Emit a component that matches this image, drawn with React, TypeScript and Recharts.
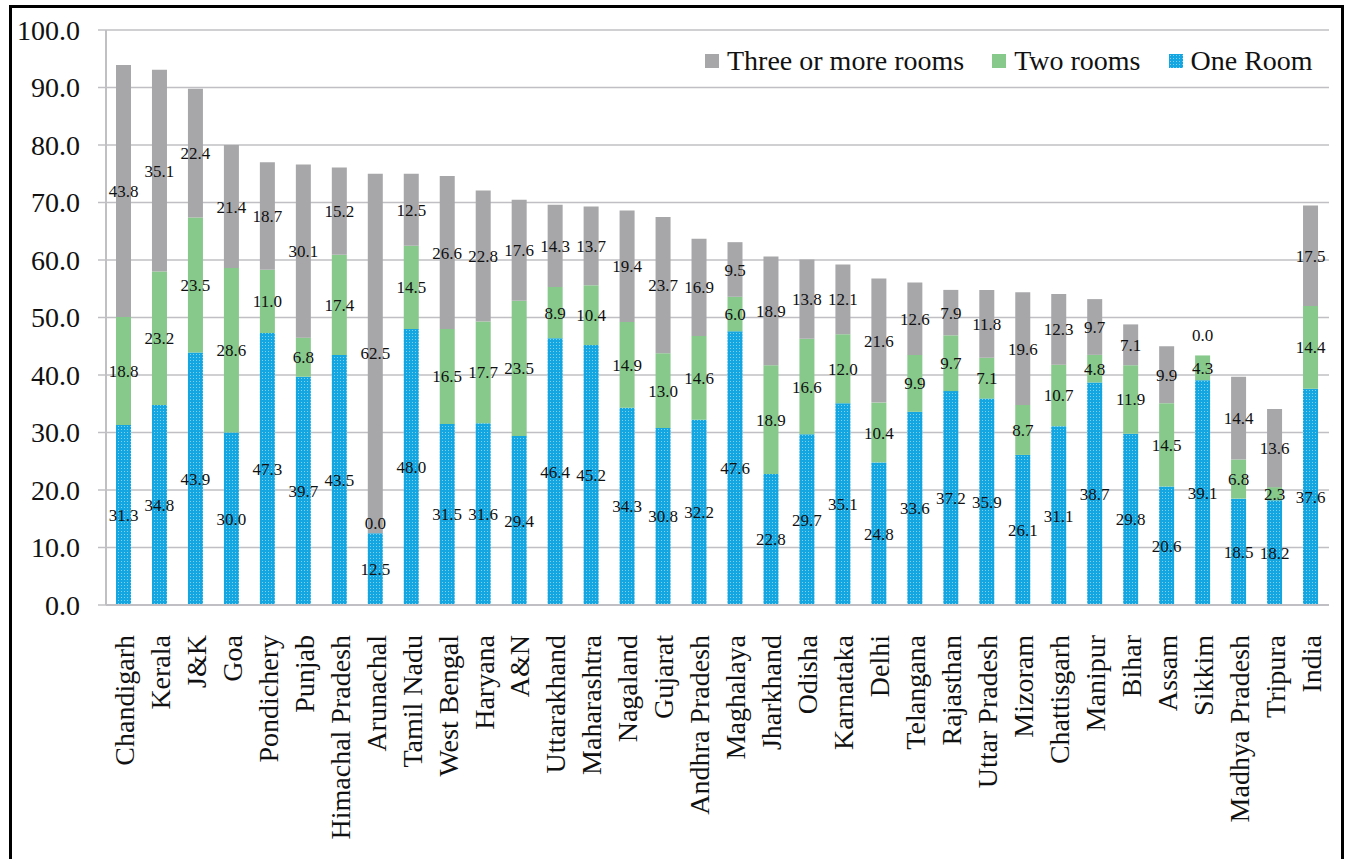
import { BarChart, Bar, XAxis, YAxis, CartesianGrid, LabelList, Legend } from "recharts";

const categories = [
  "Chandigarh", "Kerala", "J&K", "Goa", "Pondichery", "Punjab", "Himachal Pradesh", "Arunachal",
  "Tamil Nadu", "West Bengal", "Haryana", "A&N", "Uttarakhand", "Maharashtra", "Nagaland", "Gujarat",
  "Andhra Pradesh", "Maghalaya", "Jharkhand", "Odisha", "Karnataka", "Delhi", "Telangana", "Rajasthan",
  "Uttar Pradesh", "Mizoram", "Chattisgarh", "Manipur", "Bihar", "Assam", "Sikkim", "Madhya Pradesh",
  "Tripura", "India",
];

const oneRoom = [
  31.3, 34.8, 43.9, 30.0, 47.3, 39.7, 43.5, 12.5, 48.0, 31.5, 31.6, 29.4, 46.4, 45.2, 34.3, 30.8,
  32.2, 47.6, 22.8, 29.7, 35.1, 24.8, 33.6, 37.2, 35.9, 26.1, 31.1, 38.7, 29.8, 20.6, 39.1, 18.5,
  18.2, 37.6,
];

const twoRooms = [
  18.8, 23.2, 23.5, 28.6, 11.0, 6.8, 17.4, 0.0, 14.5, 16.5, 17.7, 23.5, 8.9, 10.4, 14.9, 13.0,
  14.6, 6.0, 18.9, 16.6, 12.0, 10.4, 9.9, 9.7, 7.1, 8.7, 10.7, 4.8, 11.9, 14.5, 4.3, 6.8,
  2.3, 14.4,
];

const threePlus = [
  43.8, 35.1, 22.4, 21.4, 18.7, 30.1, 15.2, 62.5, 12.5, 26.6, 22.8, 17.6, 14.3, 13.7, 19.4, 23.7,
  16.9, 9.5, 18.9, 13.8, 12.1, 21.6, 12.6, 7.9, 11.8, 19.6, 12.3, 9.7, 7.1, 9.9, 0.0, 14.4,
  13.6, 17.5,
];

const yTicks = [0, 10, 20, 30, 40, 50, 60, 70, 80, 90, 100];

const FONT = "'Liberation Serif', 'Times New Roman', serif";
const GRAY_LINE = "#c0c0c4";
const COLORS = { three: "#a7a7aa", two: "#86c98a", one: "url(#oneRoomDots)" };

const data = categories.map((name, i) => ({
  name,
  one: oneRoom[i],
  two: twoRooms[i],
  three: threePlus[i],
}));

// tick marks sit between categories, like the original
const boundaryTicks = [...categories.map((_, i) => i), categories.length];

const legendItems = [
  { key: "three", label: "Three or more rooms" },
  { key: "two", label: "Two rooms" },
  { key: "one", label: "One Room" },
];

// zero-height segments get no label of their own, so the segment under them shows it on top
const zeroLabel = (key: "two" | "three") => (d: any) => (d[key] === 0 ? d[key].toFixed(1) : null);

function XTick({ x, y, payload }: any) {
  return (
    <g transform={`translate(${x},${y})`}>
      <text
        transform="rotate(-90)"
        x={-28}
        y={0}
        dy="0.35em"
        textAnchor="end"
        fontSize={28}
        fontFamily={FONT}
        fill="#111"
      >
        {payload.value}
      </text>
    </g>
  );
}

function LegendContent() {
  return (
    <div style={{ display: "flex", alignItems: "center", fontFamily: FONT, fontSize: 28, color: "#111", whiteSpace: "nowrap" }}>
      {legendItems.map((item, i) => (
        <div key={item.key} style={{ display: "flex", alignItems: "center", marginLeft: i === 0 ? 0 : 28 }}>
          <svg width={14} height={14} style={{ marginRight: 8 }}>
            <rect width={14} height={14} fill={COLORS[item.key as keyof typeof COLORS]} />
          </svg>
          <span>{item.label}</span>
        </div>
      ))}
    </div>
  );
}

export default function App() {
  const labelProps = { position: "center" as const, fontSize: 17, fontFamily: FONT, fill: "#111", formatter: (v: any) => Number(v).toFixed(1) };
  const zeroProps = { position: "top" as const, offset: 4, fontSize: 17, fontFamily: FONT, fill: "#111" };

  return (
    <div
      style={{
        position: "absolute",
        left: 9,
        top: 5,
        width: 1335,
        height: 862,
        border: "3px solid #000",
        boxSizing: "border-box",
        background: "#fff",
      }}
    >
      <BarChart width={1329} height={850} data={data} margin={{ top: 22, right: 12, left: 0, bottom: 0 }} barSize={15}>
        <defs>
          <pattern id="oneRoomDots" width="3" height="3" patternUnits="userSpaceOnUse">
            <rect width="3" height="3" fill="#14a6e0" />
            <rect x="1" y="1" width="1" height="1" fill="#7fd0f2" />
          </pattern>
        </defs>
        <CartesianGrid vertical={false} stroke={GRAY_LINE} strokeWidth={1.5} />
        <XAxis
          xAxisId="bounds"
          type="number"
          domain={[0, categories.length]}
          ticks={boundaryTicks}
          height={0}
          tick={false}
          tickSize={9}
          tickLine={{ stroke: GRAY_LINE, strokeWidth: 2 }}
          axisLine={false}
        />
        <XAxis
          dataKey="name"
          interval={0}
          height={253}
          tick={<XTick />}
          tickLine={false}
          tickSize={0}
          axisLine={{ stroke: GRAY_LINE, strokeWidth: 2 }}
        />
        <YAxis
          width={94}
          domain={[0, 100]}
          ticks={yTicks}
          tickFormatter={(v: number) => v.toFixed(1)}
          tickSize={8}
          tickMargin={18}
          tickLine={{ stroke: GRAY_LINE, strokeWidth: 1.5 }}
          axisLine={{ stroke: GRAY_LINE, strokeWidth: 2 }}
          tick={{ fontSize: 28, fontFamily: FONT, fill: "#111" }}
        />
        <Legend
          layout="horizontal"
          verticalAlign="middle"
          align="center"
          content={<LegendContent />}
          wrapperStyle={{ position: "absolute", top: 37, left: 693, width: "auto" }}
        />
        <Bar dataKey="one" stackId="rooms" fill={COLORS.one} isAnimationActive={false}>
          <LabelList dataKey="one" {...labelProps} />
          <LabelList dataKey={zeroLabel("two")} {...zeroProps} />
        </Bar>
        <Bar dataKey="two" stackId="rooms" fill={COLORS.two} isAnimationActive={false}>
          <LabelList dataKey="two" {...labelProps} />
          <LabelList dataKey={zeroLabel("three")} {...zeroProps} offset={14} />
        </Bar>
        <Bar dataKey="three" stackId="rooms" fill={COLORS.three} isAnimationActive={false}>
          <LabelList dataKey="three" {...labelProps} />
        </Bar>
      </BarChart>
    </div>
  );
}
